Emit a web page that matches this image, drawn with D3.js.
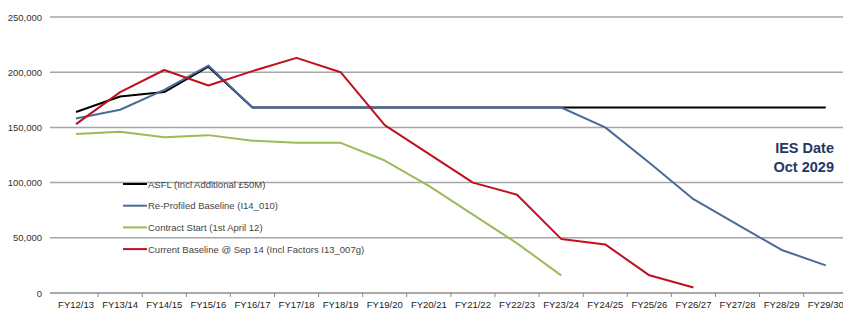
<!DOCTYPE html>
<html><head><meta charset="utf-8">
<script src="https://cdn.jsdelivr.net/npm/d3@7"></script>
<style>body{margin:0;background:#fff;}svg{display:block;font-family:"Liberation Sans",Arial,sans-serif;}</style>
</head><body><svg id="c" width="843" height="314"></svg>
<script>
const categories = ["FY12/13","FY13/14","FY14/15","FY15/16","FY16/17","FY17/18","FY18/19","FY19/20","FY20/21","FY21/22","FY22/23","FY23/24","FY24/25","FY25/26","FY26/27","FY27/28","FY28/29","FY29/30"];
const asfl = [164000,178000,182000,205000,168000,168000,168000,168000,168000,168000,168000,168000,168000,168000,168000,168000,168000,168000];
const reprofiled = [158000,166000,184000,206000,168000,168000,168000,168000,168000,168000,168000,168000,150000,118000,85000,62000,39000,25000];
const contractStart = [144000,146000,141000,143000,138000,136000,136000,120000,97000,71000,45000,16000];
const currentBaseline = [153000,182000,202000,188000,201000,213000,200000,152000,126000,100000,89000,49000,44000,16000,5000];
const yTicks = [0,50000,100000,150000,200000,250000];
const seriesNames = ["ASFL (Incl Additional £50M)","Re-Profiled Baseline (I14_010)","Contract Start (1st April 12)","Current Baseline @ Sep 14 (Incl Factors I13_007g)"];
const seriesColors = ["#000000","#4a6b98","#9bbb59","#c0101e"];
const annotation = ["IES Date","Oct 2029"];

const svg = d3.select("#c");
const x = d3.scaleBand().domain(categories).range([54, 54 + 18*44.1]).padding(0);
const y = d3.scaleLinear().domain([0,250000]).range([293, 17]);

// gridlines
svg.append("g").selectAll("line").data(yTicks.filter(d=>d>0)).join("line")
  .attr("x1",50).attr("x2",843).attr("y1",d=>y(d)).attr("y2",d=>y(d))
  .attr("stroke","#a6a6a6").attr("stroke-width",1.5);

// y labels
svg.append("g").selectAll("text").data(yTicks).join("text")
  .attr("x",42).attr("y",d=>y(d)+3.5).attr("text-anchor","end")
  .attr("font-size",9.5).attr("fill","#333")
  .text(d=>d3.format(",")(d));

// x axis
const xAxis = d3.axisBottom(x).tickSize(0).tickPadding(8);
const gx = svg.append("g").attr("transform",`translate(0,${y(0)})`).call(xAxis);
gx.select(".domain").attr("stroke","#8c8c8c").attr("stroke-width",1.5).attr("d",`M50,0H843`);
gx.selectAll("text").attr("font-size",9.5).attr("fill","#222").attr("font-family","Liberation Sans, Arial, sans-serif");
svg.append("g").selectAll("line").data(categories.slice(1)).join("line")
  .attr("x1",d=>x(d)).attr("x2",d=>x(d)).attr("y1",y(0)).attr("y2",y(0)+4)
  .attr("stroke","#8c8c8c").attr("stroke-width",1);

const line = d3.line().x((d,i)=>x(categories[i])+x.bandwidth()/2).y(d=>y(d));
const allSeries = [contractStart, asfl, reprofiled, currentBaseline];
const colorOrder = [seriesColors[2], seriesColors[0], seriesColors[1], seriesColors[3]];
svg.append("g").selectAll("path").data(allSeries).join("path")
  .attr("d",d=>line(d)).attr("fill","none")
  .attr("stroke",(d,i)=>colorOrder[i]).attr("stroke-width",2)
  .attr("stroke-linejoin","round");

// legend
const lg = svg.append("g").selectAll("g").data(seriesNames).join("g")
  .attr("transform",(d,i)=>`translate(123,${184 + i*21.7})`);
lg.append("line").attr("x1",0).attr("x2",24).attr("y1",0).attr("y2",0)
  .attr("stroke",(d,i)=>seriesColors[i]).attr("stroke-width",2);
lg.append("text").attr("x",25).attr("y",3.5).attr("font-size",9.5).attr("fill","#444").text(d=>d);

// annotation
svg.append("g").selectAll("text").data(annotation).join("text")
  .attr("x",834).attr("y",(d,i)=>153 + i*19).attr("text-anchor","end")
  .attr("font-size",14.5).attr("font-weight","bold").attr("fill","#1f3864")
  .text(d=>d);
</script></body></html>
